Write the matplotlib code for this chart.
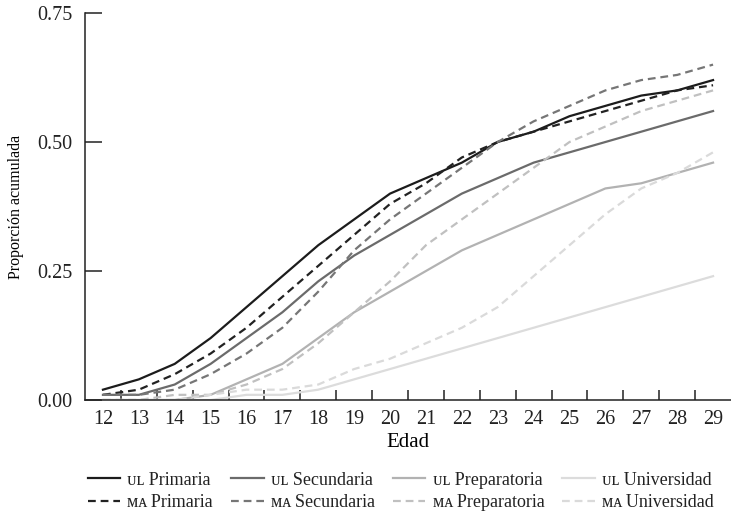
import matplotlib
matplotlib.use('Agg')
from matplotlib import pyplot as plt
from matplotlib.ticker import FixedLocator, NullFormatter
import numpy as np

edad = list(range(12, 30))

# proporcion acumulada por nivel educativo
ul_primaria = [0.02, 0.04, 0.07, 0.12, 0.18, 0.24, 0.30, 0.35, 0.40, 0.43, 0.46, 0.50, 0.52, 0.55, 0.57, 0.59, 0.60, 0.62]
ma_primaria = [0.01, 0.02, 0.05, 0.09, 0.14, 0.20, 0.26, 0.32, 0.38, 0.42, 0.47, 0.50, 0.52, 0.54, 0.56, 0.58, 0.60, 0.61]
ul_secundaria = [0.01, 0.01, 0.03, 0.07, 0.12, 0.17, 0.23, 0.28, 0.32, 0.36, 0.40, 0.43, 0.46, 0.48, 0.50, 0.52, 0.54, 0.56]
ma_secundaria = [0.01, 0.01, 0.02, 0.05, 0.09, 0.14, 0.21, 0.29, 0.35, 0.40, 0.45, 0.50, 0.54, 0.57, 0.60, 0.62, 0.63, 0.65]
ul_preparatoria = [0.00, 0.00, 0.00, 0.01, 0.04, 0.07, 0.12, 0.17, 0.21, 0.25, 0.29, 0.32, 0.35, 0.38, 0.41, 0.42, 0.44, 0.46]
ma_preparatoria = [0.00, 0.00, 0.01, 0.01, 0.03, 0.06, 0.11, 0.17, 0.23, 0.30, 0.35, 0.40, 0.45, 0.50, 0.53, 0.56, 0.58, 0.60]
ul_universidad = [0.00, 0.00, 0.00, 0.00, 0.01, 0.01, 0.02, 0.04, 0.06, 0.08, 0.10, 0.12, 0.14, 0.16, 0.18, 0.20, 0.22, 0.24]
ma_universidad = [0.00, 0.00, 0.00, 0.01, 0.02, 0.02, 0.03, 0.06, 0.08, 0.11, 0.14, 0.18, 0.24, 0.30, 0.36, 0.41, 0.44, 0.48]

niveles = ['Primaria', 'Secundaria', 'Preparatoria', 'Universidad']
series_ul = [ul_primaria, ul_secundaria, ul_preparatoria, ul_universidad]
series_ma = [ma_primaria, ma_secundaria, ma_preparatoria, ma_universidad]
colores_ul = ['#1c1c1c', '#6b6b6b', '#b2b2b2', '#dcdcdc']
colores_ma = ['#222222', '#767676', '#c0c0c0', '#dadada']

serif = ['Liberation Serif', 'DejaVu Serif', 'DejaVu Sans']
matplotlib.rcParams.update({'font.family': serif,
                            'axes.linewidth': 1.1,
                            'axes.edgecolor': '#222222',
                            'xtick.color': '#222222',
                            'ytick.color': '#222222'})

fig = plt.figure(figsize=(7.31, 5.16), dpi=100)
ax = fig.add_axes([85/731, 1-400/516, 1-85/731, 387/516])

dashes = (0, (3.5, 2.2))
for nivel, ul, ma, cu, cm in zip(niveles, series_ul, series_ma, colores_ul, colores_ma):
    ax.plot(edad, ul, color=cu, lw=1.6, label='ᴜʟ ' + nivel)
    ax.plot(edad, ma, color=cm, lw=1.6, linestyle=dashes, label='ᴍᴀ\u2009' + nivel)

ax.set_xlim(11.5, 29.5)
ax.set_ylim(0, 0.75)
ax.spines['top'].set_visible(False)
ax.spines['right'].set_visible(False)

ax.set_yticks([0, 0.25, 0.5, 0.75])
ax.set_yticklabels(['0.00', '0.25', '0.50', '0.75'])
ax.tick_params(axis='y', direction='in', length=12, width=1.1, pad=9, labelsize=14.5)

# labels on the ages, short marks between them
ax.set_xticks(edad)
ax.xaxis.set_minor_locator(FixedLocator(np.arange(12.5, 29, 1)))
ax.xaxis.set_minor_formatter(NullFormatter())
ax.tick_params(axis='x', which='major', length=0, pad=7, labelsize=14.5)
ax.tick_params(axis='x', which='minor', direction='in', length=7, width=1.1)

ax.set_xlabel('Edad', fontsize=15, labelpad=3)
ax.set_ylabel('Proporción acumulada', fontsize=11.5)
ax.yaxis.set_label_coords(-0.095, 0.5)

handles, labels = ax.get_legend_handles_labels()
leg = fig.legend(handles, labels, ncol=4, loc='upper left', bbox_to_anchor=(75/731, 1-459/516),
                 frameon=False, fontsize=13, handlelength=1.8, handletextpad=0.4,
                 columnspacing=1.0, labelspacing=0.3, borderpad=0.2)
for t in leg.get_texts():
    t.set_color('#222222')

plt.savefig('out.png', dpi=100)
